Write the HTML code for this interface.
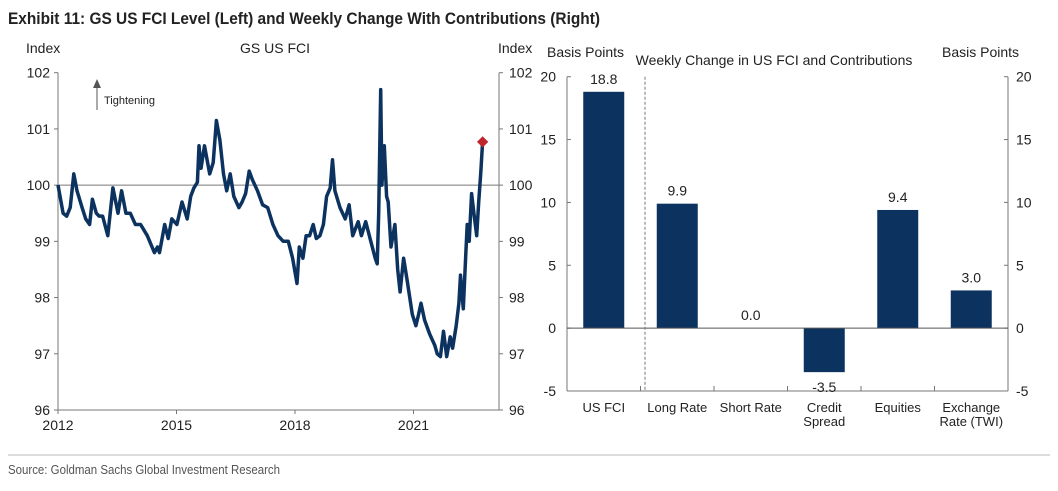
<!DOCTYPE html>
<html><head><meta charset="utf-8"><style>
body{margin:0;background:#fff;width:1058px;height:486px;overflow:hidden;font-family:"Liberation Sans",sans-serif}
svg text{font-family:"Liberation Sans",sans-serif}
</style></head><body>
<svg id="c" width="1058" height="486" xmlns="http://www.w3.org/2000/svg">
<text x="8" y="24" font-size="17" font-weight="bold" fill="#222" style="font-family:'Liberation Sans Narrow','Liberation Sans',sans-serif" textLength="592" lengthAdjust="spacingAndGlyphs">Exhibit 11: GS US FCI Level (Left) and Weekly Change With Contributions (Right)</text>
<g id="left"></g>
<g id="right"></g>
<line x1="8" y1="455" x2="1050" y2="455" stroke="#d0d0d0" stroke-width="1.5"/>
<text x="8" y="474" font-size="12.5" fill="#555" textLength="272" lengthAdjust="spacingAndGlyphs" style="font-family:'Liberation Sans Narrow','Liberation Sans',sans-serif">Source: Goldman Sachs Global Investment Research</text>
</svg>
<script>
const fciYears=[2012.0,2012.13,2012.22,2012.31,2012.4,2012.48,2012.61,2012.7,2012.8,2012.87,2012.97,2013.04,2013.13,2013.26,2013.39,2013.52,2013.61,2013.72,2013.83,2013.96,2014.09,2014.26,2014.44,2014.52,2014.57,2014.7,2014.79,2014.88,2015.01,2015.14,2015.27,2015.36,2015.44,2015.53,2015.57,2015.62,2015.71,2015.84,2015.93,2016.01,2016.1,2016.19,2016.27,2016.36,2016.45,2016.58,2016.66,2016.75,2016.84,2016.92,2017.05,2017.18,2017.31,2017.44,2017.57,2017.7,2017.83,2017.94,2018.05,2018.11,2018.2,2018.28,2018.37,2018.46,2018.54,2018.63,2018.72,2018.8,2018.89,2018.95,2019.01,2019.14,2019.27,2019.37,2019.46,2019.6,2019.68,2019.79,2019.92,2020.03,2020.08,2020.12,2020.17,2020.2,2020.26,2020.32,2020.36,2020.43,2020.53,2020.6,2020.66,2020.75,2020.84,2020.97,2021.06,2021.13,2021.19,2021.28,2021.41,2021.54,2021.6,2021.68,2021.76,2021.84,2021.93,2021.99,2022.08,2022.15,2022.19,2022.26,2022.32,2022.36,2022.41,2022.47,2022.53,2022.6,2022.65,2022.7,2022.75];
const fciValues=[100.0,99.5,99.45,99.6,100.2,99.9,99.6,99.4,99.3,99.75,99.5,99.45,99.45,99.1,99.95,99.5,99.9,99.5,99.5,99.3,99.3,99.1,98.8,98.9,98.8,99.3,99.05,99.4,99.3,99.7,99.4,99.8,99.95,100.05,100.7,100.3,100.7,100.2,100.4,101.15,100.8,100.2,99.9,100.2,99.8,99.6,99.7,99.85,100.25,100.1,99.9,99.65,99.6,99.3,99.1,99.0,99.0,98.7,98.25,98.9,98.7,99.1,99.1,99.3,99.05,99.1,99.3,99.8,99.95,100.45,99.9,99.6,99.4,99.65,99.1,99.35,99.1,99.35,99.0,98.7,98.6,99.5,101.7,100.0,100.7,99.8,99.7,98.9,99.3,98.5,98.1,98.7,98.3,97.7,97.5,97.7,97.9,97.6,97.35,97.15,97.0,96.95,97.4,96.95,97.3,97.1,97.5,97.9,98.4,97.8,98.7,99.3,99.0,99.85,99.5,99.1,99.7,100.2,100.77];
const yearTicks=[2012,2015,2018,2021];
const levelTicks=[96,97,98,99,100,101,102];
const barCats=[["US FCI"],["Long Rate"],["Short Rate"],["Credit","Spread"],["Equities"],["Exchange","Rate (TWI)"]];
const barValues=[18.8,9.9,0.0,-3.5,9.4,3.0];
const bpTicks=[-5,0,5,10,15,20];
const NS="http://www.w3.org/2000/svg";
function mk(p,t,a,txt){const e=document.createElementNS(NS,t);for(const k in a)e.setAttribute(k,a[k]);if(txt!==undefined)e.textContent=txt;p.appendChild(e);return e;}
const L=document.getElementById('left');
const lx0=58,lx1=499,ly0=410,ly1=72.7;
const xs=y=>lx0+(y-2012)*39.5;
const ys=v=>ly0-(v-96)*(ly0-ly1)/6;
let e;
e=mk(L,'line',{x1:lx0,y1:ly1,x2:lx0,y2:ly0,stroke:'#777','stroke-width':1});

e=mk(L,'line',{x1:lx1,y1:ly1,x2:lx1,y2:ly0,stroke:'#777','stroke-width':1});

e=mk(L,'line',{x1:lx0,y1:ly0,x2:lx1,y2:ly0,stroke:'#777','stroke-width':1});

e=mk(L,'line',{x1:lx0,y1:ys(100),x2:lx1,y2:ys(100),stroke:'#777','stroke-width':1});

levelTicks.forEach(v=>{const y=ys(v);
 mk(L,'line',{x1:lx0-4,y1:y,x2:lx0,y2:y,stroke:'#777'});mk(L,'line',{x1:lx1,y1:y,x2:lx1+4,y2:y,stroke:'#777'});
 e=mk(L,'text',{x:50,y:y+5,'font-size':14,'text-anchor':'end',fill:'#222'},v);
 
 e=mk(L,'text',{x:509,y:y+5,'font-size':14,fill:'#222'},v);
 });
yearTicks.forEach(yr=>{const x=xs(yr);mk(L,'line',{x1:x,y1:ly0,x2:x,y2:ly0+4,stroke:'#777'});
 e=mk(L,'text',{x:x,y:430,'font-size':14,'text-anchor':'middle',fill:'#222'},yr);
 });
e=mk(L,'polyline',{points:fciYears.map((y,i)=>xs(y).toFixed(1)+','+ys(fciValues[i]).toFixed(1)).join(' '),fill:'none',stroke:'#0c3360','stroke-width':3.5,'stroke-linejoin':'round'});

const lx=xs(fciYears[fciYears.length-1]),lyv=ys(fciValues[fciValues.length-1]);
e=mk(L,'rect',{x:lx-4,y:lyv-4,width:8,height:8,fill:'#c0272d',transform:`rotate(45 ${lx} ${lyv})`});

e=mk(L,'text',{x:26,y:53,'font-size':14,fill:'#222'},'Index');
e=mk(L,'text',{x:275,y:53,'font-size':14,'text-anchor':'middle',fill:'#222'},'GS US FCI');
e=mk(L,'text',{x:498,y:53,'font-size':14,fill:'#222'},'Index');
mk(L,'line',{x1:97,y1:110,x2:97,y2:86,stroke:'#555','stroke-width':1});
e=mk(L,'polygon',{points:'93,88 101,88 97,79',fill:'#555'});
e=mk(L,'text',{x:104,y:104,'font-size':11,fill:'#222'},'Tightening');

const R=document.getElementById('right');
const rx0=567,rx1=1008,ry0=391,ry1=76.7;
const slot=(rx1-rx0)/barCats.length;
const bs=v=>ry0-(v+5)*(ry0-ry1)/25;
mk(R,'line',{x1:rx0,y1:ry1,x2:rx0,y2:ry0,stroke:'#777'});
mk(R,'line',{x1:rx1,y1:ry1,x2:rx1,y2:ry0,stroke:'#777'});
mk(R,'line',{x1:rx0,y1:ry0,x2:rx1,y2:ry0,stroke:'#777'});
bpTicks.forEach(v=>{const y=bs(v);
 mk(R,'line',{x1:rx0,y1:y,x2:rx0+4,y2:y,stroke:'#777'});mk(R,'line',{x1:rx1-4,y1:y,x2:rx1,y2:y,stroke:'#777'});
 e=mk(R,'text',{x:556,y:y+5,'font-size':14,'text-anchor':'end',fill:'#222'},v);
 
 e=mk(R,'text',{x:1016,y:y+5,'font-size':14,fill:'#222'},v);
 });
for(let i=0;i<=barCats.length;i++){const x=rx0+i*slot;mk(R,'line',{x1:x,y1:ry0,x2:x,y2:ry0-5,stroke:'#777'});}
barCats.forEach((c,i)=>{const cx=rx0+(i+0.5)*slot,v=barValues[i];
 const y0=bs(0),y=bs(v);
 if(v!==0){e=mk(R,'rect',{x:cx-20.5,y:Math.min(y,y0),width:41,height:Math.abs(y-y0),fill:'#0c3360'});
 }
 const ly=v>=0?y-8:y+8+12;
 e=mk(R,'text',{x:cx,y:ly,'font-size':14,'text-anchor':'middle',fill:'#222'},v.toFixed(1));
 
 c.forEach((s,j)=>{e=mk(R,'text',{x:cx,y:412+j*14,'font-size':13,'text-anchor':'middle',fill:'#222'},s);
 });});
e=mk(R,'line',{x1:rx0,y1:bs(0),x2:rx1,y2:bs(0),stroke:'#555'});
e=mk(R,'line',{x1:645,y1:ry1,x2:645,y2:ry0,stroke:'#777','stroke-dasharray':'3,2'});
e=mk(R,'text',{x:547,y:57,'font-size':14,fill:'#222'},'Basis Points');
e=mk(R,'text',{x:942,y:57,'font-size':14,fill:'#222'},'Basis Points');
e=mk(R,'text',{x:774,y:65,'font-size':14,'text-anchor':'middle',fill:'#222'},'Weekly Change in US FCI and Contributions');
</script>
</body></html>
